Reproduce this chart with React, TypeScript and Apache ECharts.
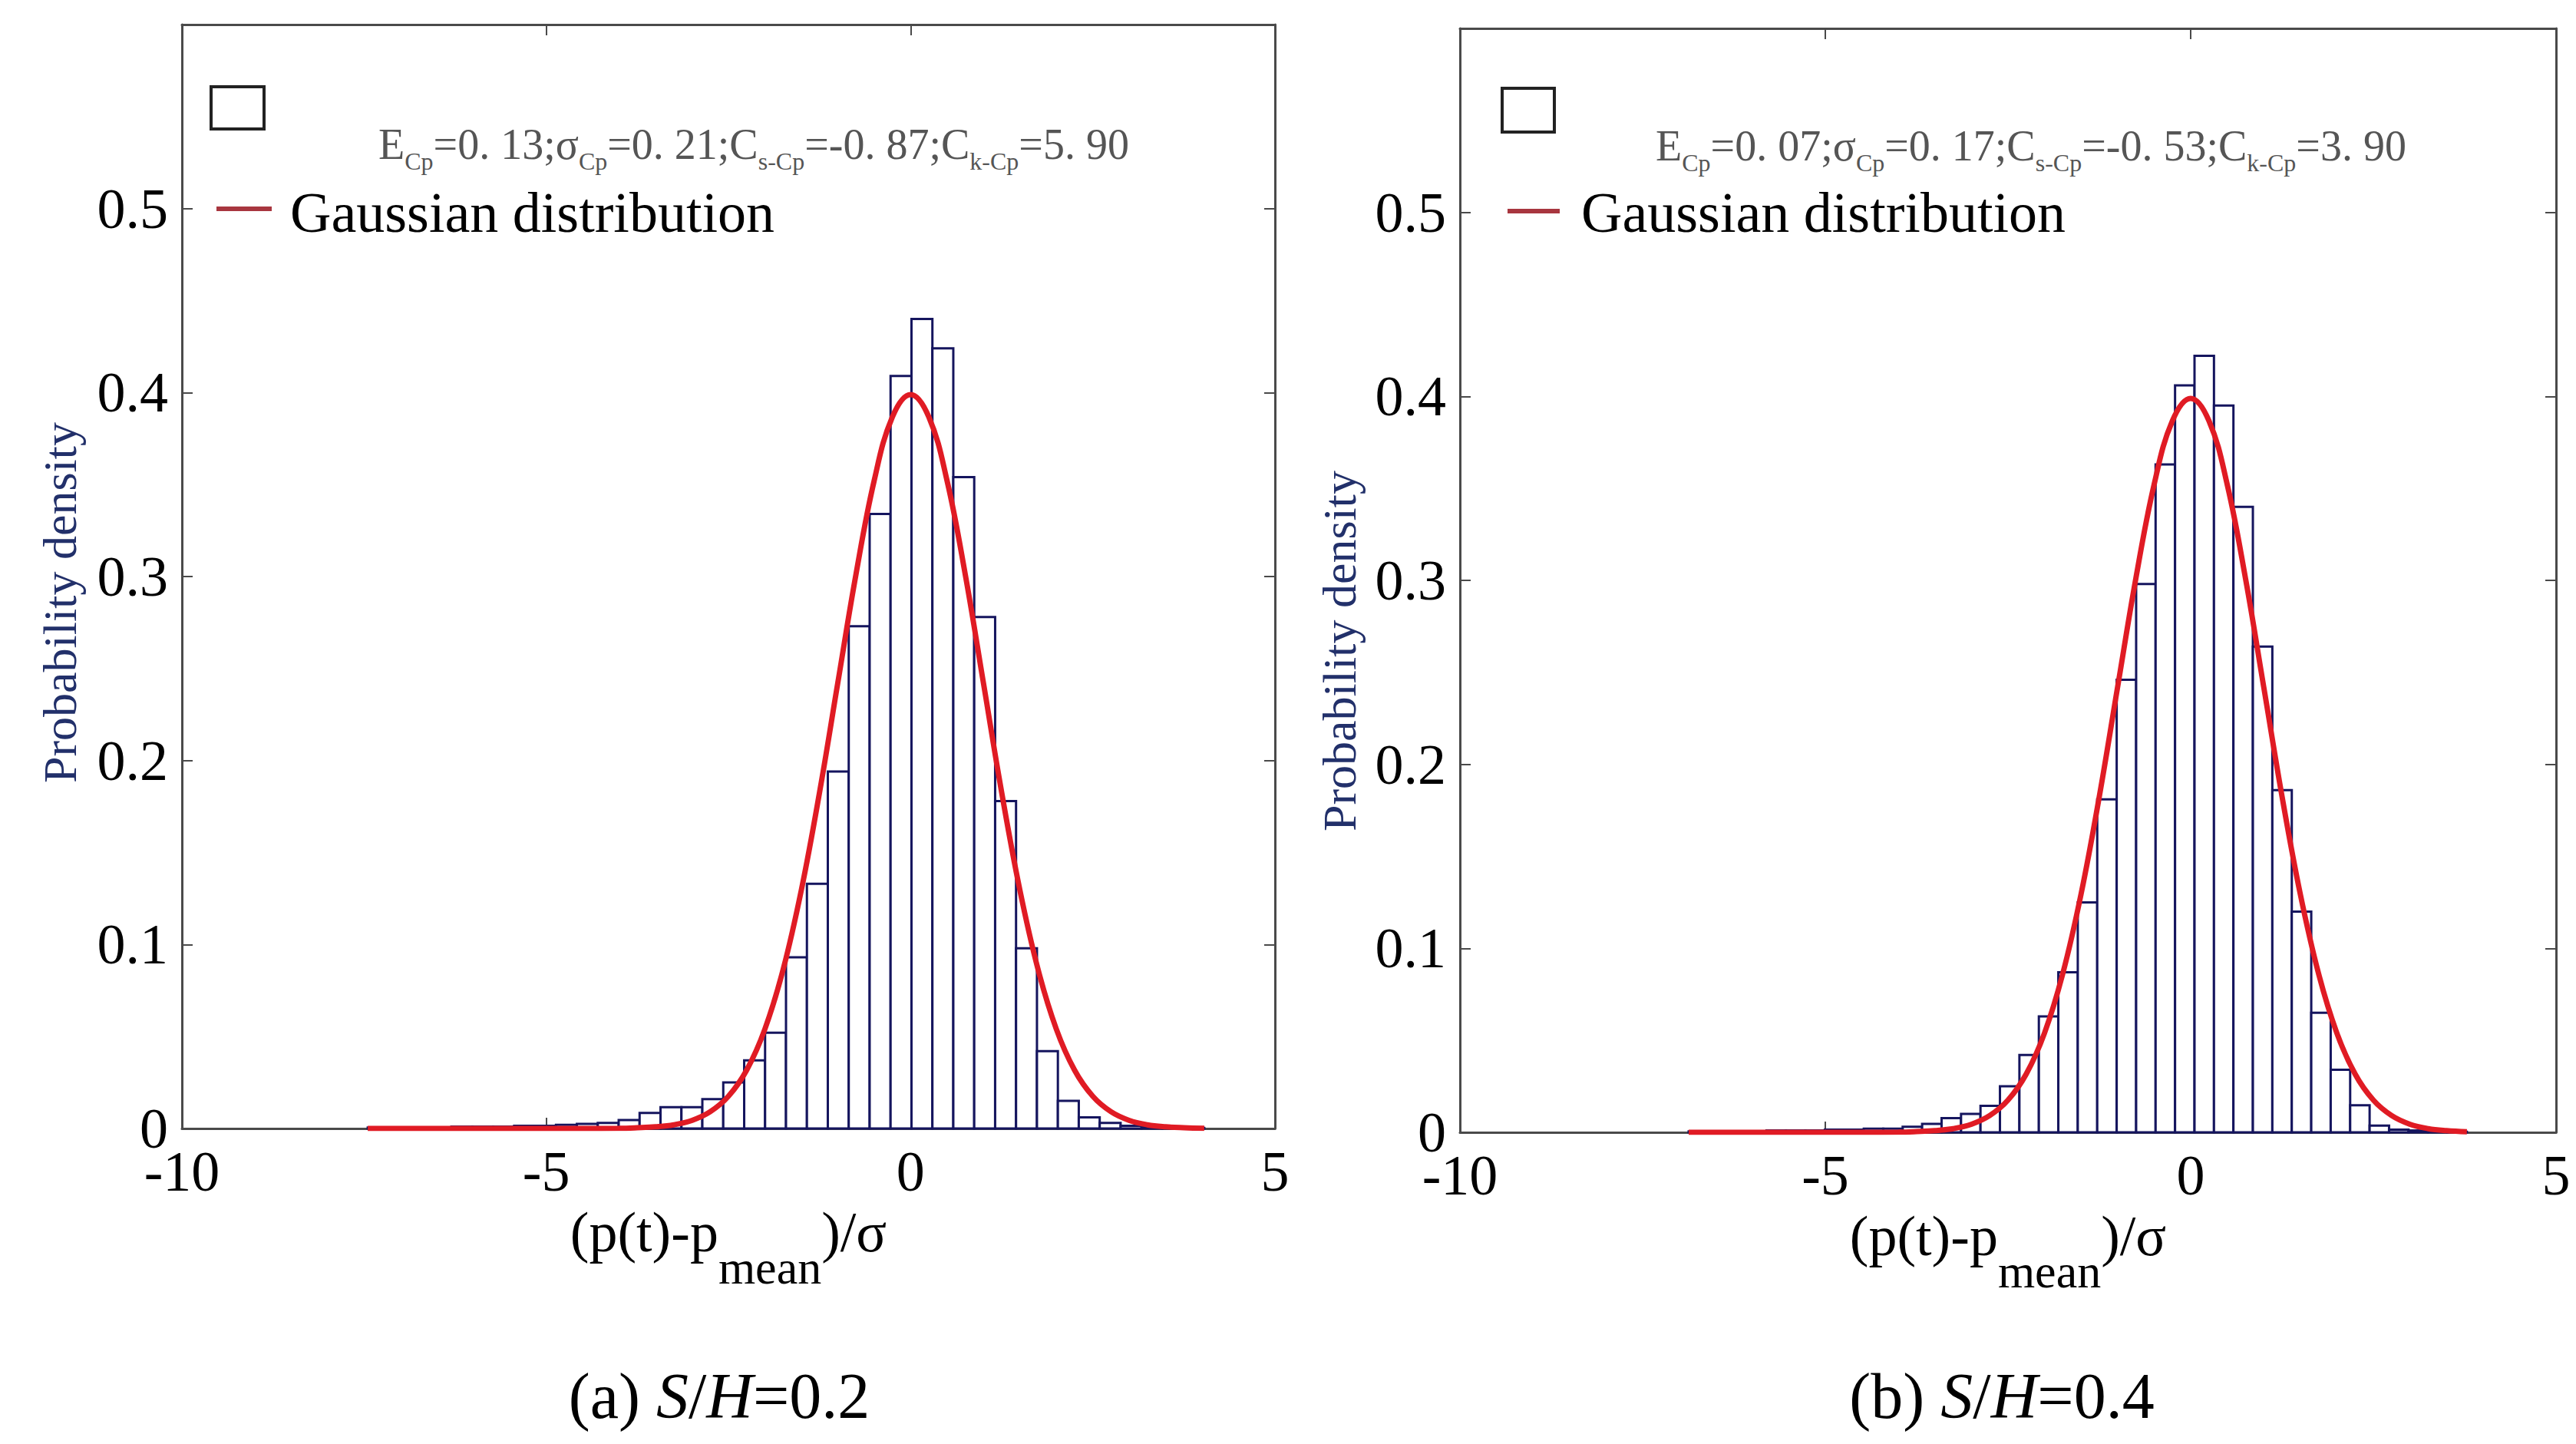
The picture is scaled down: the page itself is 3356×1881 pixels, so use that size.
import { useEffect, useRef } from "react"
import * as echarts from "echarts"

const SERIF = '"Liberation Serif", "Times New Roman", serif'

// axis ranges (both panels share them)
const X_MIN = -10
const X_MAX = 5
const X_STEP = 5
const Y_MIN = 0
const Y_MAX = 0.6
const Y_STEP = 0.1

// panel (a) S/H=0.2 : histogram of 40 bins over the data range
const HIST_A_RANGE = [-7.45, 4.03]
const HIST_A_DENSITY = [
  0.0005, 0.0005, 0.0005, 0.0005, 0.001, 0.001, 0.001, 0.0015, 0.0015, 0.002, 0.0025,
  0.003, 0.0046, 0.0085, 0.0116, 0.0116, 0.016, 0.025, 0.037, 0.052, 0.093, 0.133, 0.194, 0.273, 0.334, 0.409,
  0.44, 0.424, 0.354, 0.278, 0.178, 0.098, 0.042, 0.015, 0.006,
  0.003, 0.0015, 0.001, 0.0005, 0.0003,
]
const GAUSS_A_X = [-7.45, -6, -5, -4.5, -4, -3.75, -3.5, -3.25, -3, -2.75, -2.5, -2.25, -2, -1.75, -1.5, -1.25, -1, -0.75, -0.5, -0.25, 0, 0.25, 0.5, 0.75, 1, 1.25, 1.5, 1.75, 2, 2.25, 2.5, 2.75, 3, 3.25, 3.5, 3.75, 4.03]
const GAUSS_A_Y = [0, 0, 0, 0.00002, 0.0001, 0.0004, 0.0009, 0.002, 0.0044, 0.0091, 0.0175, 0.0317, 0.054, 0.0863, 0.1295, 0.1826, 0.242, 0.3011, 0.3521, 0.3867, 0.3989, 0.3867, 0.3521, 0.3011, 0.242, 0.1826, 0.1295, 0.0863, 0.054, 0.0317, 0.0175, 0.0091, 0.0044, 0.002, 0.0009, 0.0004, 0.0001]

// panel (b) S/H=0.4
const HIST_B_RANGE = [-6.87, 3.78]
const HIST_B_DENSITY = [
  0.0005, 0.0005, 0.0005, 0.0005, 0.001, 0.001, 0.001, 0.0015, 0.0015, 0.002, 0.002, 0.003,
  0.0046, 0.0077, 0.01, 0.0144, 0.025, 0.042, 0.063, 0.087, 0.125, 0.181, 0.246, 0.298, 0.363, 0.406,
  0.422, 0.395, 0.34, 0.264, 0.186, 0.12, 0.065, 0.034, 0.0147, 0.0037,
  0.0015, 0.001, 0.0005, 0.0003,
]
const GAUSS_B_X = [-6.87, -6, -5, -4.5, -4, -3.75, -3.5, -3.25, -3, -2.75, -2.5, -2.25, -2, -1.75, -1.5, -1.25, -1, -0.75, -0.5, -0.25, 0, 0.25, 0.5, 0.75, 1, 1.25, 1.5, 1.75, 2, 2.25, 2.5, 2.75, 3, 3.25, 3.5, 3.78]
const GAUSS_B_Y = [0, 0, 0, 0.00002, 0.0001, 0.0004, 0.0009, 0.002, 0.0044, 0.0091, 0.0175, 0.0317, 0.054, 0.0863, 0.1295, 0.1826, 0.242, 0.3011, 0.3521, 0.3867, 0.3989, 0.3867, 0.3521, 0.3011, 0.242, 0.1826, 0.1295, 0.0863, 0.054, 0.0317, 0.0175, 0.0091, 0.0044, 0.002, 0.0009, 0.0003]

const LEGEND_LINE = "Gaussian distribution"
const Y_NAME = "Probability density"
const STATS_A = ["0. 13", "0. 21", "-0. 87", "5. 90"]
const STATS_B = ["0. 07", "0. 17", "-0. 53", "3. 90"]
const CAPTIONS = [["(a) ", "0.2"], ["(b) ", "0.4"]]

const BAR_EDGE = "#15155e"
const CURVE = "#e01b24"
const FRAME = "#4a4a4a"

const toBins = (range: number[], dens: number[]) => {
  const w = (range[1] - range[0]) / dens.length
  return dens.map((h, i) => [range[0] + i * w, range[0] + (i + 1) * w, h])
}

const renderBar = (_params: any, api: any) => {
  const p0 = api.coord([api.value(0), api.value(2)])
  const p1 = api.coord([api.value(1), 0])
  return {
    type: "rect",
    shape: { x: p0[0], y: p0[1], width: p1[0] - p0[0], height: p1[1] - p0[1] },
    style: { fill: "#ffffff", stroke: BAR_EDGE, lineWidth: 3 },
  }
}

const frameLine = { color: FRAME, width: 3 }

const xAxisOf = (gridIndex: number, position: "bottom" | "top") => ({
  type: "value",
  gridIndex,
  position,
  min: X_MIN,
  max: X_MAX,
  interval: X_STEP,
  axisLine: { show: true, onZero: false, lineStyle: frameLine },
  axisTick: { show: true, inside: true, length: 14, lineStyle: { color: FRAME, width: 2 } },
  axisLabel: {
    show: position === "bottom",
    margin: 31,
    lineHeight: 50,
    color: "#000",
    fontFamily: SERIF,
    fontSize: 74,
  },
  splitLine: { show: false },
  name: position === "bottom" ? "{a|(p(t)-p}{b|mean}{a|)/σ}" : "",
  nameLocation: "middle",
  nameGap: 97,
  nameTextStyle: {
    color: "#000",
    fontFamily: SERIF,
    rich: {
      a: { fontFamily: SERIF, fontSize: 74, lineHeight: 84, verticalAlign: "top", color: "#000" },
      b: { fontFamily: SERIF, fontSize: 62, lineHeight: 62, padding: [52, 0, 0, 0], verticalAlign: "top", color: "#000" },
    },
  },
})

const yAxisOf = (gridIndex: number, position: "left" | "right") => ({
  type: "value",
  gridIndex,
  position,
  min: Y_MIN,
  max: Y_MAX,
  interval: Y_STEP,
  axisLine: { show: true, onZero: false, lineStyle: frameLine },
  axisTick: { show: true, inside: true, length: 14, lineStyle: { color: FRAME, width: 2 } },
  axisLabel: {
    show: position === "left",
    margin: 18,
    lineHeight: 50,
    color: "#000",
    fontFamily: SERIF,
    fontSize: 74,
    formatter: (v: number) => (v >= Y_MAX - 1e-9 ? "" : v === 0 ? "0" : v.toFixed(1)),
  },
  splitLine: { show: false },
})

const statsText = (vals: string[]) =>
  `{m|E}{s|Cp}{m|=${vals[0]};σ}{s|Cp}{m|=${vals[1]};C}{s|s-Cp}{m|=${vals[2]};C}{s|k-Cp}{m|=${vals[3]}}`

const statsRich = {
  m: { fontFamily: SERIF, fontSize: 56, lineHeight: 60, verticalAlign: "top", fill: "#555" },
  s: { fontFamily: SERIF, fontSize: 32, lineHeight: 32, padding: [34, 0, 0, 0], verticalAlign: "top", fill: "#555" },
}

const panelGraphics = (p: {
  box: number[]
  statsX: number
  statsY: number
  stats: string[]
  lineX: number[]
  lineY: number
  legendX: number
  legendY: number
  yNameX: number
  yNameY: number
  capX: number
  caption: string[]
}) => [
  {
    type: "rect",
    shape: { x: p.box[0], y: p.box[1], width: p.box[2], height: p.box[3] },
    style: { fill: "#fff", stroke: "#222", lineWidth: 4 },
  },
  {
    type: "text",
    x: p.statsX,
    y: p.statsY,
    style: { text: statsText(p.stats), rich: statsRich, align: "left", verticalAlign: "top", fill: "#555" },
  },
  {
    type: "line",
    shape: { x1: p.lineX[0], y1: p.lineY, x2: p.lineX[1], y2: p.lineY },
    style: { stroke: "#a8363f", lineWidth: 6 },
  },
  {
    type: "text",
    x: p.legendX,
    y: p.legendY,
    style: { text: LEGEND_LINE, font: `74px ${SERIF}`, fill: "#000", align: "left", verticalAlign: "middle" },
  },
  {
    type: "text",
    x: p.yNameX,
    y: p.yNameY,
    rotation: Math.PI / 2,
    style: { text: Y_NAME, font: `62px ${SERIF}`, fill: "#22306a", align: "center", verticalAlign: "middle" },
  },
  {
    type: "text",
    x: p.capX,
    y: 1818,
    style: {
      text: `{n|${p.caption[0]}}{i|S}{n|/}{i|H}{n|=${p.caption[1]}}`,
      align: "center",
      verticalAlign: "middle",
      rich: {
        n: { fontFamily: SERIF, fontSize: 84, fill: "#000" },
        i: { fontFamily: SERIF, fontSize: 84, fontStyle: "italic", fill: "#000" },
      },
    },
  },
]

export default function App() {
  const chartRef = useRef<HTMLDivElement>(null)

  useEffect(() => {
    if (!chartRef.current) return
    document.body.style.margin = "0"
    document.body.style.overflow = "hidden"

    const chart = echarts.init(chartRef.current, null, { renderer: "svg" })

    const option = {
      animation: false,
      backgroundColor: "#ffffff",
      grid: [
        { left: 237, top: 32, width: 1424, height: 1438, containLabel: false },
        { left: 1902, top: 37, width: 1428, height: 1438, containLabel: false },
      ],
      xAxis: [xAxisOf(0, "bottom"), xAxisOf(0, "top"), xAxisOf(1, "bottom"), xAxisOf(1, "top")],
      yAxis: [yAxisOf(0, "left"), yAxisOf(0, "right"), yAxisOf(1, "left"), yAxisOf(1, "right")],
      series: [
        {
          name: "histogram a",
          type: "custom",
          xAxisIndex: 0,
          yAxisIndex: 0,
          renderItem: renderBar,
          encode: { x: [0, 1], y: 2 },
          data: toBins(HIST_A_RANGE, HIST_A_DENSITY),
          z: 2,
        },
        {
          name: LEGEND_LINE,
          type: "line",
          xAxisIndex: 0,
          yAxisIndex: 0,
          showSymbol: false,
          smooth: 0.4,
          lineStyle: { color: CURVE, width: 7 },
          data: GAUSS_A_X.map((x, i) => [x, GAUSS_A_Y[i]]),
          z: 3,
        },
        {
          name: "histogram b",
          type: "custom",
          xAxisIndex: 2,
          yAxisIndex: 2,
          renderItem: renderBar,
          encode: { x: [0, 1], y: 2 },
          data: toBins(HIST_B_RANGE, HIST_B_DENSITY),
          z: 2,
        },
        {
          name: LEGEND_LINE + " b",
          type: "line",
          xAxisIndex: 2,
          yAxisIndex: 2,
          showSymbol: false,
          smooth: 0.4,
          lineStyle: { color: CURVE, width: 7 },
          data: GAUSS_B_X.map((x, i) => [x, GAUSS_B_Y[i]]),
          z: 3,
        },
      ],
      graphic: [
        ...panelGraphics({
          box: [275, 113, 69, 55],
          statsX: 493,
          statsY: 160,
          stats: STATS_A,
          lineX: [282, 354],
          lineY: 272,
          legendX: 378,
          legendY: 277,
          yNameX: 78,
          yNameY: 785,
          capX: 937,
          caption: CAPTIONS[0],
        }),
        ...panelGraphics({
          box: [1957, 115, 68, 57],
          statsX: 2157,
          statsY: 162,
          stats: STATS_B,
          lineX: [1964, 2032],
          lineY: 275,
          legendX: 2060,
          legendY: 277,
          yNameX: 1745,
          yNameY: 848,
          capX: 2608,
          caption: CAPTIONS[1],
        }),
      ],
    }

    chart.setOption(option as any)

    return () => {
      chart.dispose()
    }
  }, [])

  return <div ref={chartRef} style={{ width: 3356, height: 1881 }} />
}
